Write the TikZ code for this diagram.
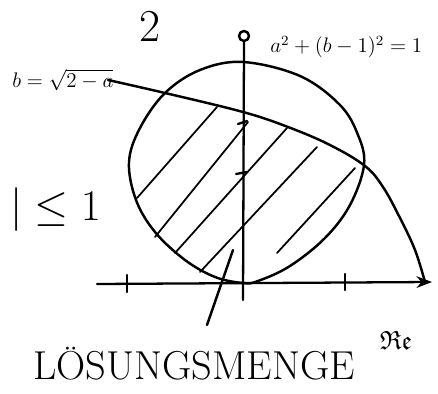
\documentclass[tikz,border=0pt]{standalone}
\usepackage{amsmath}
\usepackage{amssymb}
\usetikzlibrary{arrows.meta, positioning, calc}

\begin{document}
\begin{tikzpicture}[
    x=0.02cm, y=-0.02cm,
    >=Stealth,
    pen/.style={line width=1.4pt, line join=round, line cap=round},
    axis/.style={pen, line width=1.3pt},
    hatch/.style={line width=1pt, line cap=round},
    lbl/.style={inner sep=0pt, font=\fontsize{12}{14}\selectfont},
]
\useasboundingbox (0,0) rectangle (438,394);
% === Axes ===
\draw[axis, ->] (97,284) -- (432,282);
\draw[axis] (244,42) -- (243,300);
\draw[pen] (244,36) circle [radius=5];
\draw[axis] (127,275) -- (127,292);
\draw[axis] (345,274) -- (345,290);
\draw[axis] (238,124) -- (247,121);
\draw[axis] (236,174) -- (247,172);
% === Circle a^2+(b-1)^2=1 ===
\draw[pen] plot[smooth cycle, tension=0.6] coordinates {
    (243,62) (300,76) (340,105) (358,135) (364,165) (350,205) (325,238)
    (290,266) (258,281) (243,283) (215,277) (185,260) (155,232) (136,200)
    (129,162) (140,128) (165,93) (200,70)};
% === Curve b = sqrt(2-a) ===
\draw[pen] plot[smooth, tension=0.6] coordinates {
    (108,80) (165,93) (243,112) (288,127) (330,145) (365,166)
    (383,187) (400,218) (415,250) (425,282)};
% === Hatching ===
\draw[hatch] (137,198) -- (217,107);
\draw[hatch] (155,237) -- (248,122);
\draw[hatch] (175,253) -- (287,128);
\draw[hatch] (200,272) -- (317,147);
\draw[hatch] (277,253) -- (355,168);
% === Labels ===
\node[lbl, font=\fontsize{26}{28}\selectfont] (imlbl) at (150,26) {2};
\node[lbl, anchor=west] (circeq) at (270,47) {$a^2+(b-1)^2=1$};
\node[lbl, anchor=west, font=\fontsize{13}{15}\selectfont] (curveq) at (12,80) {$b=\sqrt{2-a}$};
\node[lbl, anchor=west, font=\fontsize{24}{26}\selectfont] (bound) at (10,210) {$|\le 1$};
\node[lbl, font=\fontsize{23}{25}\selectfont] (solset) at (194,364) {LÖSUNGSMENGE};
\node[lbl, font=\fontsize{15}{17}\selectfont] (relbl) at (396,340) {$\mathfrak{Re}$};
\coordinate (ptrtop) at (233,250);
\coordinate (ptrend) at (207,325);
\draw[pen] (ptrtop) -- (ptrend);
\end{tikzpicture}
\end{document}
